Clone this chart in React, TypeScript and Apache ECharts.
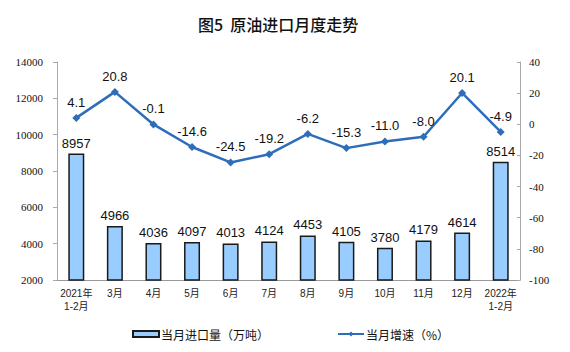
import React, { useEffect, useRef } from "react";
import * as echarts from "echarts";

const categories = ["2021年\n1-2月", "3月", "4月", "5月", "6月", "7月", "8月", "9月", "10月", "11月", "12月", "2022年\n1-2月"];
const importVolume = [8957, 4966, 4036, 4097, 4013, 4124, 4453, 4105, 3780, 4179, 4614, 8514];
const growthRate = [4.1, 20.8, -0.1, -14.6, -24.5, -19.2, -6.2, -15.3, -11.0, -8.0, 20.1, -4.9];
const leftTicks = { min: 2000, max: 14000, interval: 2000 };
const rightTicks = { min: -100, max: 40, interval: 20 };

const SANS = "Arial, 'Liberation Sans', 'Noto Sans CJK SC', sans-serif";
const SERIF = "'Liberation Serif', 'Times New Roman', serif";

export default function App() {
  const ref = useRef<HTMLDivElement>(null);
  useEffect(() => {
    if (!ref.current) return;
    const chart = echarts.init(ref.current, null, { renderer: "svg" });
    chart.setOption({
      animation: false,
      backgroundColor: "#ffffff",
      title: {
        text: "图5  原油进口月度走势",
        left: 193,
        top: 11,
        textStyle: { fontFamily: "'Noto Sans CJK SC', sans-serif", fontSize: 16, fontWeight: 500, color: "#111" },
      },
      grid: { left: 57, right: 50, top: 62, bottom: 72 },
      legend: {
        left: 127,
        top: 323,
        itemGap: 68,
        itemWidth: 26,
        itemHeight: 6,
        textStyle: { fontFamily: "'Noto Sans CJK SC', sans-serif", fontSize: 12, color: "#111", padding: [0, 0, 0, -3] },
        data: [
          { name: "当月进口量（万吨）", icon: "rect" },
          { name: "当月增速（%）" },
        ],
      },
      xAxis: {
        type: "category",
        data: categories,
        boundaryGap: true,
        axisLine: { onZero: false, lineStyle: { color: "#999", width: 1 } },
        axisTick: { inside: true, length: 4, interval: 0, lineStyle: { color: "#999" } },
        axisLabel: { interval: 0, fontSize: 10, color: "#222", fontFamily: SANS, lineHeight: 13, margin: 7 },
      },
      yAxis: [
        {
          type: "value",
          ...leftTicks,
          axisLine: { show: true, lineStyle: { color: "#aaa" } },
          axisTick: { show: true, length: 4, lineStyle: { color: "#aaa" } },
          splitLine: { show: false },
          axisLabel: { fontSize: 11, color: "#111", fontFamily: SERIF, margin: 14, formatter: (v: number) => String(v) },
        },
        {
          type: "value",
          ...rightTicks,
          axisLine: { show: true, lineStyle: { color: "#aaa" } },
          axisTick: { show: true, inside: true, length: 3, lineStyle: { color: "#aaa" } },
          splitLine: { show: false },
          axisLabel: { fontSize: 11, color: "#111", fontFamily: SERIF, margin: 9, formatter: (v: number) => String(v) },
        },
      ],
      series: [
        {
          name: "当月进口量（万吨）",
          type: "bar",
          data: importVolume,
          barWidth: 16,
          itemStyle: { color: "#99CCFF", borderColor: "#1a1a1a", borderWidth: 1.5 },
          label: { show: true, position: "top", distance: 4, fontSize: 13, color: "#111", fontFamily: SANS, formatter: (p: any) => String(p.value) },
        },
        {
          name: "当月增速（%）",
          type: "line",
          yAxisIndex: 1,
          data: growthRate,
          symbol: "diamond",
          symbolSize: 8,
          lineStyle: { color: "#2D6DB9", width: 2.5 },
          itemStyle: { color: "#2D6DB9" },
          label: {
            show: true,
            position: "top",
            distance: 5,
            fontSize: 13,
            color: "#111",
            fontFamily: SANS,
            formatter: (p: any) => Number(p.value).toFixed(1),
          },
        },
      ],
    });
    return () => chart.dispose();
  }, []);
  return (
    <div
      ref={ref}
      style={{ position: "fixed", left: 0, top: 0, width: 570, height: 352, background: "#fff" }}
    />
  );
}
